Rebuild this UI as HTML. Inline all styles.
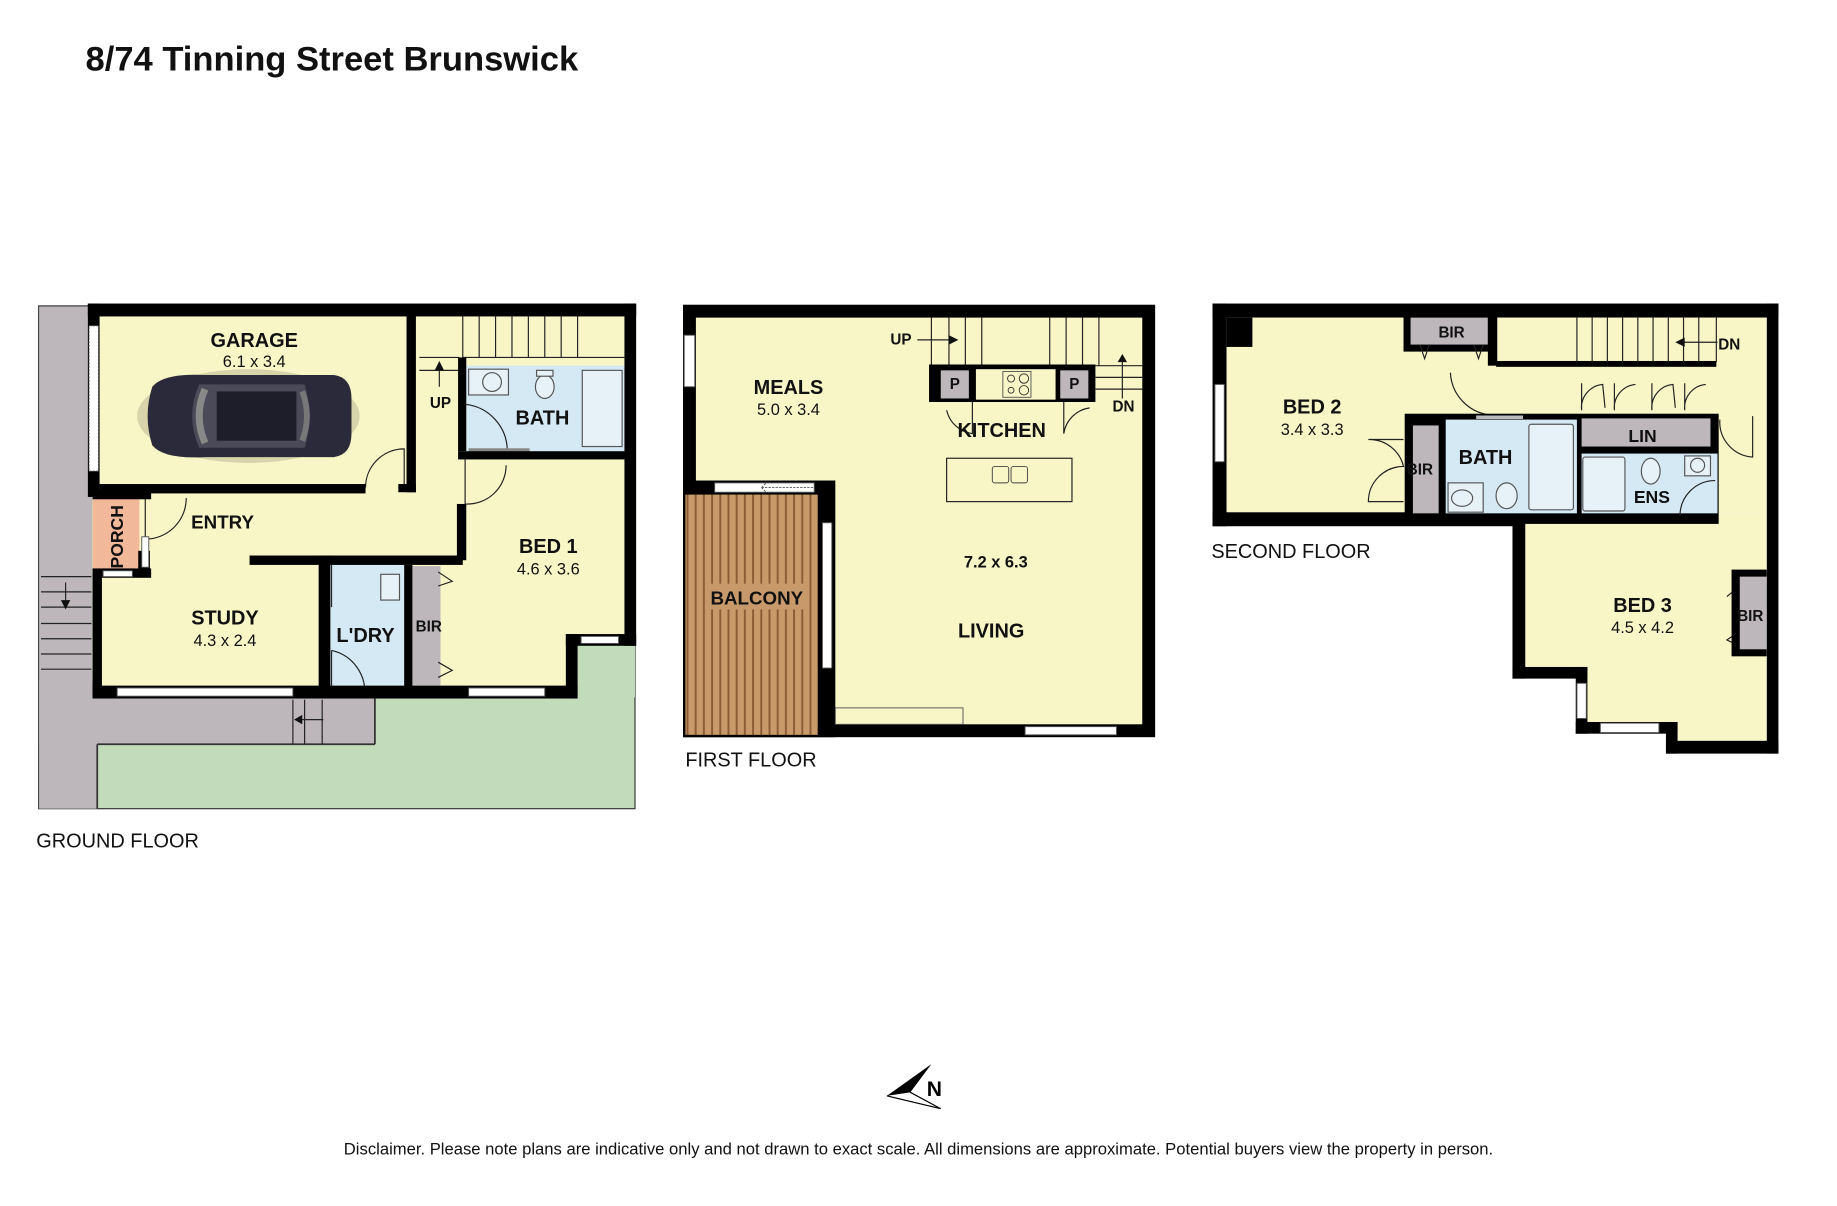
<!DOCTYPE html>
<html><head><meta charset="utf-8"><style>
html,body{margin:0;padding:0;background:#fff;}
svg{display:block;}
text{font-family:"Liberation Sans",sans-serif;}
.r{font-weight:bold;font-size:17px;fill:#111;text-anchor:middle;}
.d{font-size:14px;fill:#111;text-anchor:middle;}
.f{font-size:17px;fill:#111;}
.s{font-weight:bold;font-size:13px;fill:#111;text-anchor:middle;}
</style></head><body>
<svg width="1837" height="1206" viewBox="0 0 1568 1029" preserveAspectRatio="none" xmlns="http://www.w3.org/2000/svg">
<defs>
<pattern id="deck" width="7" height="10" patternUnits="userSpaceOnUse">
<rect width="7" height="10" fill="#c8996a"/><rect x="5" width="1.6" height="10" fill="#8a5a33"/>
</pattern>
</defs>
<rect width="1568" height="1029" fill="#fff"/>
<text x="73" y="60" style="font-weight:bold;font-size:29.5px;fill:#111">8/74 Tinning Street Brunswick</text>

<!-- ===== GROUND FLOOR ===== -->
<rect x="33" y="261" width="509" height="429" fill="#c2dbbb" stroke="#333" stroke-width="1"/>
<rect x="33.5" y="261.5" width="45" height="428" fill="#bdb7bb"/>
<rect x="33.5" y="580" width="287" height="55" fill="#bdb7bb"/>
<rect x="33.5" y="580" width="50" height="110" fill="#bdb7bb"/>
<line x1="83" y1="635" x2="320" y2="635" stroke="#333" stroke-width="1.5"/>
<line x1="83" y1="635" x2="83" y2="690" stroke="#333" stroke-width="1.5"/>
<line x1="320" y1="590" x2="320" y2="635" stroke="#333" stroke-width="1.5"/>
<rect x="80" y="265" width="460" height="325" fill="#f8f5c6"/>
<rect x="490" y="545" width="52" height="50" fill="#c2dbbb"/>
<rect x="395" y="312" width="138" height="74" fill="#d5e9f5"/>
<rect x="280" y="478" width="67" height="117" fill="#d5e9f5"/>
<rect x="352" y="483" width="24" height="102" fill="#bdb7bb"/>
<rect x="79" y="425" width="40" height="65" fill="#f2b89a"/>
<g stroke="#222" stroke-width="1" fill="none">
<line x1="395" y1="270" x2="395" y2="305"/><line x1="395" y1="305" x2="533" y2="305"/>
<line x1="409" y1="270" x2="409" y2="305"/><line x1="423" y1="270" x2="423" y2="305"/>
<line x1="437" y1="270" x2="437" y2="305"/><line x1="451" y1="270" x2="451" y2="305"/>
<line x1="465" y1="270" x2="465" y2="305"/><line x1="479" y1="270" x2="479" y2="305"/>
<line x1="493" y1="270" x2="493" y2="305"/>
<line x1="358" y1="305" x2="392" y2="305"/><line x1="358" y1="316" x2="392" y2="316"/>
<line x1="375" y1="330" x2="375" y2="312"/>
<line x1="35" y1="492" x2="78" y2="492"/><line x1="35" y1="505" x2="78" y2="505"/><line x1="35" y1="518" x2="78" y2="518"/>
<line x1="35" y1="532" x2="78" y2="532"/><line x1="35" y1="545" x2="78" y2="545"/><line x1="35" y1="558" x2="78" y2="558"/><line x1="35" y1="571" x2="78" y2="571"/>
<line x1="56" y1="497" x2="56" y2="518"/>
<line x1="250" y1="597" x2="250" y2="635"/><line x1="260" y1="597" x2="260" y2="635"/><line x1="275" y1="597" x2="275" y2="635"/>
<line x1="255" y1="614" x2="276" y2="614"/>
<path d="M312 416 A33 33 0 0 1 345 383 L345 416"/>
<path d="M397 392 L397 430 A33 33 0 0 0 432 397"/>
<path d="M397 345 L397 384" /><path d="M397 345 A40 40 0 0 1 433 384"/>
<path d="M124 425 L124 460 A35 35 0 0 0 159 425"/>
<path d="M283 518 L283 478 A36 36 0 0 1 310 478"/>
<path d="M283 555 L283 595 M283 555 A36 36 0 0 1 311 595"/>
<path d="M374 488 L386 496 L374 500 M374 565 L386 572 L374 578"/>
</g>
<polygon points="375,308 371,316 379,316" fill="#111"/>
<polygon points="52,512 60,512 56,520" fill="#111"/>
<polygon points="251,614 258,610 258,618" fill="#111"/>
<g stroke="#555" stroke-width="1" fill="#e6f1f8">
<rect x="400" y="315" width="34" height="22"/><circle cx="420" cy="326" r="8"/>
<ellipse cx="465" cy="330" rx="8" ry="10"/><rect x="458" y="316" width="14" height="5"/>
<rect x="497" y="316" width="34" height="65"/>
<rect x="325" y="490" width="16" height="22"/>
</g>
<line x1="400" y1="384" x2="452" y2="384" stroke="#888" stroke-width="3"/>
<g fill="#000">
<rect x="75" y="259" width="468" height="11"/>
<rect x="75" y="259" width="10" height="165"/>
<rect x="533" y="259" width="10" height="292"/>
<rect x="347" y="268" width="8" height="152"/>
<rect x="85" y="413" width="227" height="8"/>
<rect x="340" y="413" width="15" height="7"/>
<rect x="79" y="418" width="50" height="8"/>
<rect x="79" y="485" width="50" height="8"/>
<rect x="79" y="490" width="8" height="105"/>
<rect x="118" y="470" width="10" height="22"/>
<rect x="391" y="305" width="7" height="80"/>
<rect x="391" y="385" width="145" height="7"/>
<rect x="390" y="430" width="8" height="48"/>
<rect x="213" y="474" width="182" height="8"/>
<rect x="272" y="474" width="10" height="120"/>
<rect x="345" y="482" width="7" height="108"/>
<rect x="483" y="541" width="60" height="10"/>
<rect x="483" y="541" width="10" height="55"/>
<rect x="79" y="585" width="414" height="11"/>
</g>
<g fill="#fff" stroke="#555" stroke-width="0.8">
<rect x="76" y="278" width="8" height="124" stroke-dasharray="2 1"/>
<rect x="100" y="587" width="150" height="7"/>
<rect x="400" y="587" width="65" height="7"/>
<rect x="496" y="543" width="32" height="6"/>
<rect x="121" y="458" width="6" height="26"/>
<rect x="88" y="487" width="25" height="5"/>
</g>
<g>
<ellipse cx="212" cy="355" rx="95" ry="40" fill="#00000022"/>
<path d="M130 330 Q140 318 175 320 L285 320 Q300 322 300 340 L300 370 Q300 388 285 390 L175 390 Q140 392 130 380 Q122 355 130 330Z" fill="#2a2a3a"/>
<path d="M170 328 L260 328 Q268 355 260 382 L170 382 Q158 355 170 328Z" fill="#4a4a58"/>
<path d="M175 332 Q165 355 175 378" stroke="#888" stroke-width="6" fill="none"/>
<path d="M258 334 Q266 355 258 376" stroke="#777" stroke-width="5" fill="none"/>
<rect x="185" y="334" width="68" height="42" fill="#1e1e2a"/>
</g>
<text class="r" x="217" y="296">GARAGE</text><text class="d" x="217" y="313">6.1 x 3.4</text>
<text class="s" x="376" y="348">UP</text>
<text class="r" x="463" y="362">BATH</text>
<text class="r" x="190" y="451" style="font-size:16px">ENTRY</text>
<text class="r" x="105" y="458" transform="rotate(-90 105 458)" style="font-size:15px">PORCH</text>
<text class="r" x="468" y="472">BED 1</text><text class="d" x="468" y="490">4.6 x 3.6</text>
<text class="r" x="192" y="533">STUDY</text><text class="d" x="192" y="551">4.3 x 2.4</text>
<text class="r" x="312" y="548">L'DRY</text>
<text class="s" x="366" y="539">BIR</text>
<text class="f" x="31" y="723">GROUND FLOOR</text>

<!-- ===== FIRST FLOOR ===== -->
<rect x="583" y="260" width="403" height="369" fill="#000"/>
<rect x="594" y="271" width="381" height="347" fill="#f8f5c6"/>
<rect x="583" y="410" width="130" height="219" fill="#000"/>
<rect x="585" y="422" width="113" height="205" fill="url(#deck)"/>
<rect x="713" y="604" width="109" height="14" fill="#f8f5c6" stroke="#555" stroke-width="0.8"/>
<g fill="#fff" stroke="#555" stroke-width="0.8">
<rect x="584" y="286" width="9" height="44"/>
<rect x="610" y="412" width="85" height="8"/>
<rect x="702" y="446" width="8" height="124"/>
<rect x="875" y="620" width="78" height="7"/>
</g>
<path d="M650 416 L695 416 M650 416 L654 412 M650 416 L654 420" stroke="#555" stroke-width="0.8" fill="none" stroke-dasharray="2 1"/>
<g stroke="#222" stroke-width="1" fill="none">
<line x1="795" y1="271" x2="795" y2="312"/><line x1="810" y1="271" x2="810" y2="312"/><line x1="824" y1="271" x2="824" y2="312"/>
<line x1="838" y1="271" x2="838" y2="312"/><line x1="896" y1="271" x2="896" y2="312"/><line x1="910" y1="271" x2="910" y2="312"/>
<line x1="924" y1="271" x2="924" y2="312"/><line x1="938" y1="271" x2="938" y2="312"/>
<line x1="795" y1="312" x2="975" y2="312"/>
<line x1="935" y1="322" x2="975" y2="322"/><line x1="935" y1="332" x2="975" y2="332"/>
<line x1="958" y1="340" x2="958" y2="305"/>
<line x1="783" y1="290" x2="812" y2="290"/>
<path d="M808 350 A26 26 0 0 0 830 370 L830 342 M908 342 L908 370 A26 26 0 0 1 930 348" />
<rect x="808" y="391" width="107" height="37"/>
</g>
<polygon points="818,290 810,286 810,294" fill="#111"/>
<polygon points="958,302 954,309 962,309" fill="#111"/>
<rect x="793" y="311" width="142" height="32" fill="#000"/>
<rect x="833" y="315" width="68" height="26" fill="#f8f5c6"/>
<rect x="856" y="317" width="24" height="22" fill="#f8f5c6" stroke="#555" stroke-width="0.8"/>
<g fill="none" stroke="#333" stroke-width="0.8"><circle cx="863" cy="323" r="3"/><circle cx="874" cy="323" r="4"/><circle cx="863" cy="333" r="2.5"/><circle cx="874" cy="333" r="4"/></g>
<rect x="803" y="316" width="24" height="24" fill="#bdb7bb"/>
<rect x="905" y="316" width="24" height="24" fill="#bdb7bb"/>
<text class="s" x="815" y="332">P</text><text class="s" x="917" y="332">P</text>
<g fill="none" stroke="#444" stroke-width="0.8"><rect x="847" y="398" width="14" height="14" rx="2"/><rect x="863" y="398" width="14" height="14" rx="2"/></g>
<text class="s" x="769" y="294">UP</text><text class="s" x="959" y="351">DN</text>
<text class="r" x="673" y="336">MEALS</text><text class="d" x="673" y="354">5.0 x 3.4</text>
<text class="r" x="855" y="373">KITCHEN</text>
<text class="d" x="850" y="484" style="font-weight:bold">7.2 x 6.3</text>
<text class="r" x="846" y="544">LIVING</text>
<rect x="603" y="498" width="86" height="22" fill="#c8996a"/>
<text class="r" x="646" y="516" style="font-size:16px">BALCONY</text>
<text class="f" x="585" y="654">FIRST FLOOR</text>

<!-- ===== SECOND FLOOR ===== -->
<g fill="#000">
<rect x="1035" y="259" width="483" height="12"/>
<rect x="1035" y="259" width="12" height="190"/>
<rect x="1035" y="437" width="265" height="12"/>
<rect x="1508" y="259" width="10" height="384"/>
<rect x="1291" y="437" width="11" height="142"/>
<rect x="1291" y="569" width="64" height="10"/>
<rect x="1345" y="569" width="10" height="57"/>
<rect x="1345" y="616" width="87" height="10"/>
<rect x="1422" y="616" width="10" height="27"/>
<rect x="1422" y="632" width="96" height="11"/>
</g>
<rect x="1047" y="271" width="461" height="166" fill="#f8f5c6"/>
<rect x="1302" y="437" width="206" height="132" fill="#f8f5c6"/>
<rect x="1355" y="569" width="153" height="47" fill="#f8f5c6"/>
<rect x="1432" y="616" width="76" height="16" fill="#f8f5c6"/>
<rect x="1047" y="271" width="22" height="25" fill="#000"/>
<rect x="1198" y="270" width="76" height="30" fill="#000"/>
<rect x="1204" y="271" width="66" height="23" fill="#bdb7bb"/>
<rect x="1270" y="270" width="8" height="42" fill="#000"/>
<rect x="1277" y="308" width="188" height="5" fill="#000"/>
<g stroke="#222" stroke-width="1" fill="none">
<line x1="1346" y1="271" x2="1346" y2="309"/><line x1="1359" y1="271" x2="1359" y2="309"/><line x1="1372" y1="271" x2="1372" y2="309"/>
<line x1="1385" y1="271" x2="1385" y2="309"/><line x1="1398" y1="271" x2="1398" y2="309"/><line x1="1411" y1="271" x2="1411" y2="309"/>
<line x1="1424" y1="271" x2="1424" y2="309"/><line x1="1437" y1="271" x2="1437" y2="309"/><line x1="1450" y1="271" x2="1450" y2="309"/>
<line x1="1465" y1="271" x2="1465" y2="309"/>
<line x1="1432" y1="292" x2="1466" y2="292"/>
<path d="M1212 294 L1216 306 L1220 294 M1258 294 L1262 306 L1266 294"/>
<path d="M1238 318 A38 38 0 0 0 1272 354"/>
<path d="M1198 375 L1168 375 A30 30 0 0 1 1198 398 A30 30 0 0 0 1168 428 L1198 428"/>
<path d="M1350 327 L1350 350 A20 20 0 0 1 1368 328 L1370 348 M1378 327 L1378 350 A20 20 0 0 1 1396 328"/>
<path d="M1410 327 L1410 350 A20 20 0 0 1 1428 328 L1430 348 M1438 327 L1438 350 A20 20 0 0 1 1456 328"/>
<path d="M1468 358 A30 30 0 0 0 1496 390 L1496 355"/>
<path d="M1485 500 L1474 509 M1486 538 L1474 546 L1486 552"/>
</g>
<polygon points="1430,292 1438,288 1438,296" fill="#111"/>
<rect x="1199" y="353" width="268" height="94" fill="#000"/>
<rect x="1206" y="363" width="22" height="75" fill="#bdb7bb"/>
<rect x="1234" y="358" width="112" height="80" fill="#d5e9f5"/>
<rect x="1350" y="357" width="110" height="24" fill="#bdb7bb"/>
<rect x="1350" y="387" width="116" height="51" fill="#d5e9f5"/>
<g stroke="#555" stroke-width="1" fill="#e6f1f8">
<rect x="1305" y="362" width="38" height="73" rx="2"/>
<rect x="1236" y="412" width="30" height="25"/><ellipse cx="1248" cy="425" rx="9" ry="7"/>
<ellipse cx="1286" cy="423" rx="9" ry="11"/>
<rect x="1351" y="390" width="36" height="46" rx="2"/>
<ellipse cx="1409" cy="402" rx="8" ry="11"/>
<rect x="1438" y="389" width="22" height="17"/><circle cx="1449" cy="397" r="6"/>
</g>
<path d="M1434 440 A30 30 0 0 1 1464 410" stroke="#222" fill="none"/>
<line x1="1260" y1="356" x2="1300" y2="356" stroke="#bbb" stroke-width="3"/>
<rect x="1478" y="486" width="30" height="74" fill="#000"/>
<rect x="1485" y="492" width="23" height="62" fill="#bdb7bb"/>
<g fill="#fff" stroke="#555" stroke-width="0.8">
<rect x="1037" y="328" width="8" height="66"/>
<rect x="1346" y="583" width="8" height="30"/>
<rect x="1366" y="617" width="50" height="8"/>
</g>
<text class="s" x="1239" y="288">BIR</text>
<text class="s" x="1212" y="405">BIR</text>
<text class="s" x="1494" y="530">BIR</text>
<text class="s" x="1476" y="298">DN</text>
<text class="r" x="1120" y="353">BED 2</text><text class="d" x="1120" y="371">3.4 x 3.3</text>
<text class="r" x="1268" y="396">BATH</text>
<text class="r" x="1402" y="377" style="font-size:15px">LIN</text>
<text class="r" x="1410" y="429" style="font-size:15px">ENS</text>
<text class="r" x="1402" y="522">BED 3</text><text class="d" x="1402" y="540">4.5 x 4.2</text>
<text class="f" x="1034" y="476">SECOND FLOOR</text>

<polygon points="757,935 795,908 777,932" fill="#000"/>
<polyline points="757,935 803,946 777,932" fill="none" stroke="#000" stroke-width="1"/>
<text x="791" y="935" style="font-weight:bold;font-size:18px;fill:#000">N</text>
<text x="784" y="985" style="font-size:14.2px;fill:#111;text-anchor:middle">Disclaimer. Please note plans are indicative only and not drawn to exact scale. All dimensions are approximate. Potential buyers view the property in person.</text>
</svg>
</body></html>
